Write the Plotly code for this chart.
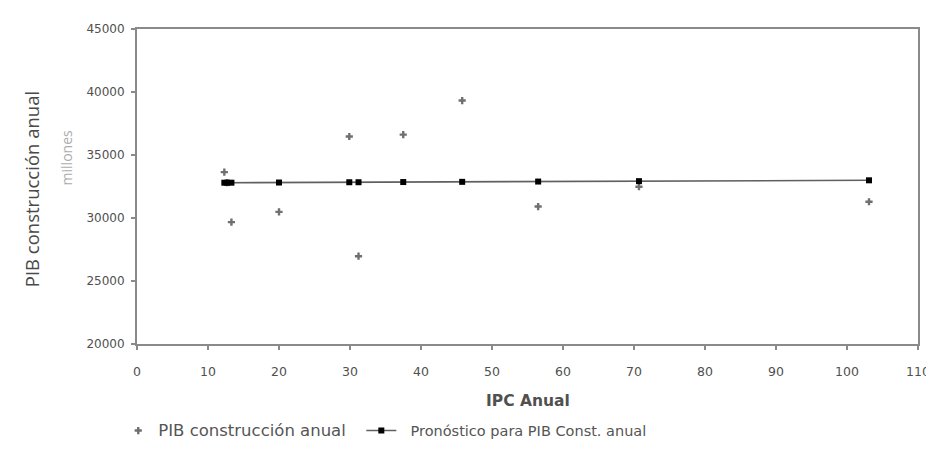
import plotly.graph_objects as go

ipc_anual = [12.3, 12.7, 13.3, 20.0, 29.9, 31.2, 37.5, 45.8, 56.5, 70.7, 103.1]
pib_construccion = [33640, 32800, 29670, 30490, 36470, 26970, 36620, 39320, 30910, 32480, 31290]
pronostico_pib = [32800, 32801, 32802, 32816, 32837, 32840, 32853, 32870, 32893, 32923, 32991]

x_ticks = [0, 10, 20, 30, 40, 50, 60, 70, 80, 90, 100, 110]
y_ticks = [20000, 25000, 30000, 35000, 40000, 45000]

fig = go.Figure()
fig.add_trace(go.Scatter(
    x=ipc_anual, y=pib_construccion, mode="markers",
    name="<span style='font-size:16.5px'>PIB construcción anual&nbsp;&nbsp;</span>",
    marker=dict(symbol="cross", size=6, color="#707070"),
))
fig.add_trace(go.Scatter(
    x=ipc_anual, y=pronostico_pib, mode="lines+markers",
    name="<span style='font-size:14.5px'>&nbsp;&nbsp;Pronóstico para PIB Const. anual</span>",
    line=dict(color="#606060", width=1.6),
    marker=dict(symbol="square", size=6, color="#000000"),
))

fig.update_layout(
    width=934, height=451,
    margin=dict(l=129.3, r=17.3, t=20.7, b=100.3),
    paper_bgcolor="white", plot_bgcolor="white",
    font=dict(family="Open Sans", color="#444444"),
    showlegend=True,
    legend=dict(orientation="h", x=-0.024, xanchor="left", y=-0.276, yanchor="middle",
                font=dict(family="DejaVu Sans", size=14, color="#555555"),
                bgcolor="rgba(0,0,0,0)", itemwidth=30),
    xaxis=dict(range=[0, 110], tickvals=x_ticks, ticktext=[str(v) for v in x_ticks],
               showgrid=False, zeroline=False, showline=True, mirror=True,
               linecolor="#8a8a8a", linewidth=2, ticks="outside", ticklen=4,
               tickcolor="#8a8a8a", tickwidth=1.5, ticklabelstandoff=11,
               tickfont=dict(family="DejaVu Sans", size=12.5, color="#505050")),
    yaxis=dict(range=[20000, 45000], tickvals=y_ticks, ticktext=[str(v) for v in y_ticks],
               showgrid=False, zeroline=False, showline=True, mirror=True,
               linecolor="#8a8a8a", linewidth=2, ticks="outside", ticklen=4,
               tickcolor="#8a8a8a", tickwidth=1.5, ticklabelstandoff=4,
               tickfont=dict(family="DejaVu Sans", size=12, color="#505050")),
    annotations=[
        dict(text="PIB construcción anual", xref="paper", yref="paper",
             x=(23 - 129.3) / 787.4, y=(350.7 - 189) / 330, textangle=-90,
             showarrow=False, xanchor="center", yanchor="middle",
             font=dict(family="Open Sans", size=18.5, color="#4a4a4a")),
        dict(text="millones", xref="paper", yref="paper",
             x=(58 - 129.3) / 787.4, y=(350.7 - 156) / 330, textangle=-90,
             showarrow=False, xanchor="center", yanchor="middle",
             font=dict(family="Open Sans", size=14, color="#ababab")),
        dict(text="<b>IPC Anual</b>", xref="paper", yref="paper",
             x=0.5, y=(350.7 - 410) / 330,
             showarrow=False, xanchor="center", yanchor="middle",
             font=dict(family="DejaVu Sans", size=15.5, color="#505050")),
    ],
)

fig.write_html("out.html")
